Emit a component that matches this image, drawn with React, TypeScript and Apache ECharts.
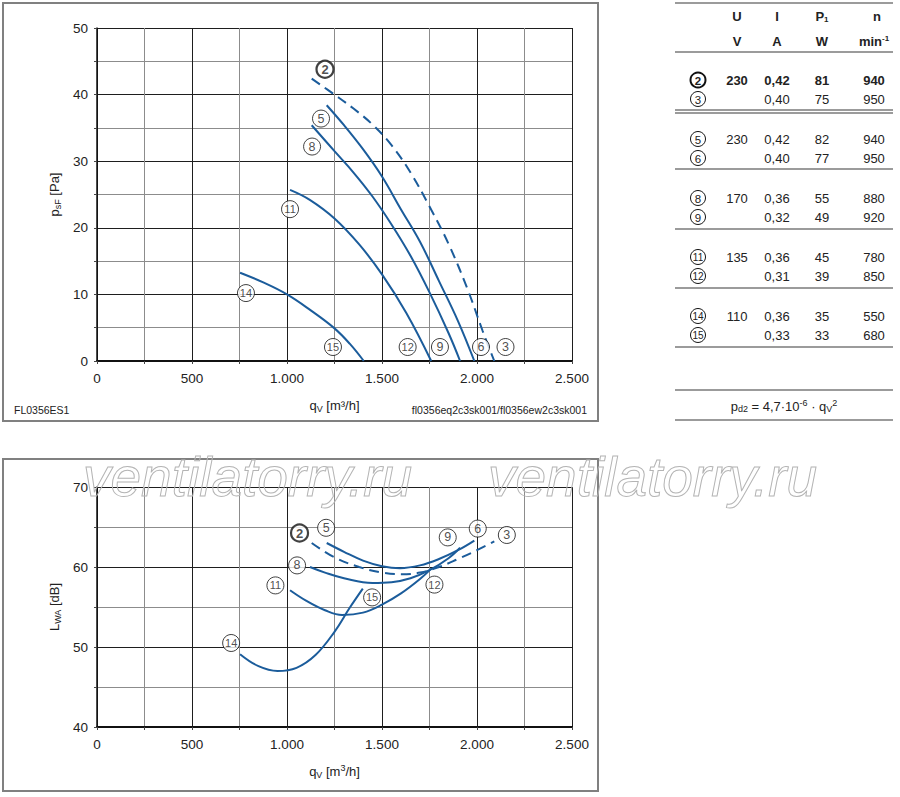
import React, { useEffect, useRef } from 'react';
import * as echarts from 'echarts';

const FONT = '"Liberation Sans", Arial, Helvetica, sans-serif';
const BLUE = '#1b5c9b';
const INK = '#222';

// ---- Top chart: static pressure psF [Pa] vs qV [m³/h]
const p2_3 = [[1130, 42.4], [1250, 40.0], [1350, 37.9], [1450, 35.5], [1550, 32.4], [1650, 28.3], [1750, 23.2], [1850, 17.6], [1950, 10.8], [2030, 4.5], [2091, 0]];
const p5_6 = [[1209, 38.4], [1300, 35.4], [1400, 31.8], [1500, 27.7], [1600, 22.75], [1700, 17.9], [1800, 12.0], [1900, 6.0], [1986, 0]];
const p8_9 = [[1130, 35.4], [1250, 31.5], [1350, 28.3], [1450, 24.7], [1550, 20.5], [1650, 15.8], [1750, 10.3], [1850, 4.2], [1911, 0]];
const p11_12 = [[1016, 25.7], [1120, 24.2], [1250, 21.4], [1380, 17.5], [1500, 13.0], [1628, 7.2], [1759, 0]];
const p14_15 = [[753, 13.25], [875, 11.8], [1000, 10.0], [1125, 7.6], [1250, 4.9], [1330, 2.6], [1404, 0]];

const topLabels = [
  { name: '2', value: [1200, 43.8], bold: true },
  { name: '5', value: [1179, 36.4] },
  { name: '8', value: [1132, 32.2] },
  { name: '11', value: [1016, 22.8] },
  { name: '14', value: [784, 10.2] },
  { name: '15', value: [1242, 2.1] },
  { name: '12', value: [1635, 2.1] },
  { name: '9', value: [1805, 2.1] },
  { name: '6', value: [2021, 2.1] },
  { name: '3', value: [2150, 2.1] },
];

// ---- Bottom chart: sound power LWA [dB] vs qV [m³/h]
const L2_3 = [[1130, 63.0], [1250, 61.2], [1380, 60.0], [1500, 59.3], [1600, 59.1], [1700, 59.3], [1800, 60.0], [1900, 61.0], [2000, 62.1], [2091, 63.2]];
const L5_6 = [[1209, 63.0], [1300, 61.9], [1400, 60.8], [1500, 60.1], [1595, 59.85], [1700, 60.2], [1800, 61.0], [1900, 62.1], [1986, 63.3]];
const L8_9 = [[1121, 60.0], [1200, 59.3], [1300, 58.6], [1450, 58.0], [1550, 58.1], [1650, 58.6], [1750, 59.6], [1850, 61.1], [1911, 62.4]];
const L11_12 = [[1016, 57.1], [1100, 55.8], [1200, 54.6], [1290, 54.0], [1400, 54.3], [1500, 55.3], [1600, 56.7], [1700, 58.5], [1759, 59.8]];
const L14_15 = [[753, 49.1], [850, 47.6], [950, 47.0], [1050, 47.4], [1150, 49.0], [1250, 51.9], [1330, 54.9], [1399, 57.3]];

const bottomLabels = [
  { name: '2', value: [1066, 64.25], bold: true },
  { name: '5', value: [1206, 64.9] },
  { name: '8', value: [1053, 60.2] },
  { name: '11', value: [939, 57.7] },
  { name: '14', value: [706, 50.5] },
  { name: '15', value: [1448, 56.2] },
  { name: '12', value: [1776, 57.8] },
  { name: '9', value: [1846, 63.7] },
  { name: '6', value: [2004, 64.8] },
  { name: '3', value: [2157, 64.0] },
];

// ---- Table
const tableIds = ['2', '3', '5', '6', '8', '9', '11', '12', '14', '15'];
const tableU = ['230', '', '230', '', '170', '', '135', '', '110', ''];
const tableI = ['0,42', '0,40', '0,42', '0,40', '0,36', '0,32', '0,36', '0,31', '0,36', '0,33'];
const tableP = ['81', '75', '82', '77', '55', '49', '45', '39', '35', '33'];
const tableN = ['940', '950', '940', '950', '880', '920', '780', '850', '550', '680'];

const fmtThousands = (v: number) =>
  v >= 1000 ? `${Math.floor(v / 1000)}.${String(v % 1000).padStart(3, '0')}` : String(v);
const fmtX = (v: number) => (v % 500 === 0 ? fmtThousands(v) : '');
const fmtY = (v: number) => (v % 10 === 0 ? String(v) : '');

const nameRich = {
  a: { fontSize: 13, color: INK, fontFamily: FONT },
  s: { fontSize: 9, color: INK, fontFamily: FONT, padding: [7, 0, 0, 0] },
  u: { fontSize: 9, color: INK, fontFamily: FONT, padding: [0, 0, 7, 0] },
};

function xAxisFor(i: number, name: string) {
  return {
    type: 'value',
    gridIndex: i,
    min: 0,
    max: 2500,
    interval: 250,
    axisLine: { show: true, onZero: false, lineStyle: { color: '#111', width: 2 } },
    axisTick: { show: true, length: 3, lineStyle: { color: '#444' } },
    axisLabel: { formatter: fmtX, color: INK, fontSize: 13.5, margin: 10, fontFamily: FONT },
    splitLine: { show: true, lineStyle: { color: ['#1e1e1e', '#8c8c8c'], width: 1 } },
    name,
    nameLocation: 'middle',
    nameGap: 36,
    nameTextStyle: { rich: nameRich },
  };
}

function yAxisFor(i: number, min: number, max: number, name: string) {
  return {
    type: 'value',
    gridIndex: i,
    min,
    max,
    interval: 5,
    axisLine: { show: true, onZero: false, lineStyle: { color: '#111', width: 1.5 } },
    axisTick: { show: true, length: 3, lineStyle: { color: '#444' } },
    axisLabel: { formatter: fmtY, color: INK, fontSize: 13.5, margin: 9, fontFamily: FONT },
    splitLine: { show: true, lineStyle: { color: ['#1e1e1e', '#8c8c8c'], width: 1 } },
    name,
    nameLocation: 'middle',
    nameGap: 30,
    nameTextStyle: { rich: nameRich },
  };
}

function lineSeries(data: number[][], idx: number, dashed = false) {
  return {
    type: 'line',
    xAxisIndex: idx,
    yAxisIndex: idx,
    data,
    smooth: 0.4,
    symbol: 'none',
    lineStyle: { color: BLUE, width: 2, type: dashed ? [10, 6] : 'solid' },
    z: 3,
  };
}

function labelSeries(labels: any[], idx: number) {
  return {
    type: 'scatter',
    xAxisIndex: idx,
    yAxisIndex: idx,
    symbol: 'circle',
    symbolSize: 17,
    z: 5,
    data: labels.map((l) => ({
      name: l.name,
      value: l.value,
      itemStyle: { color: '#fff', borderColor: '#111', borderWidth: l.bold ? 2.2 : 1 },
      label: {
        fontWeight: l.bold ? 'bold' : 'normal',
        fontSize: l.bold ? 13 : l.name.length > 1 ? 11 : 12.5,
      },
    })),
    label: { show: true, position: 'inside', formatter: '{b}', color: INK, fontFamily: FONT },
    emphasis: { disabled: true },
  };
}

function buildGraphics() {
  const g: any[] = [];
  // frames
  g.push({ type: 'rect', shape: { x: 3, y: 3, width: 595, height: 418 }, style: { fill: 'none', stroke: '#808080', lineWidth: 2 }, z: 0 });
  g.push({ type: 'rect', shape: { x: 3, y: 459, width: 595, height: 332 }, style: { fill: 'none', stroke: '#808080', lineWidth: 2 }, z: 0 });
  // footer texts
  g.push({ type: 'text', x: 14, y: 410, style: { text: 'FL0356ES1', font: `10.5px ${FONT}`, fill: INK, verticalAlign: 'middle' } });
  g.push({ type: 'text', x: 587, y: 410, style: { text: 'fl0356eq2c3sk001/fl0356ew2c3sk001', font: `10.5px ${FONT}`, fill: INK, align: 'right', verticalAlign: 'middle' } });

  // table lines
  const L = (y: number) => ({ type: 'line', shape: { x1: 675, y1: y, x2: 893, y2: y }, style: { stroke: '#7a7a7a', lineWidth: 1.5 } });
  [3, 52, 110, 113, 169, 229, 288, 347, 390, 420].forEach((y) => g.push(L(y)));

  const colX = { u: 737, i: 777, p: 822, n: 874 };
  const txt = (x: number, y: number, text: string, bold = false, extra: any = {}) => ({
    type: 'text', x, y,
    style: { text, font: `${bold ? 'bold ' : ''}13px ${FONT}`, fill: INK, align: 'center', verticalAlign: 'middle', ...extra },
  });
  const bRich = {
    a: { fontSize: 13, fontWeight: 'bold', fontFamily: FONT, fill: INK },
    s: { fontSize: 8, fontWeight: 'bold', fontFamily: FONT, fill: INK, padding: [6, 0, 0, 0] },
    u: { fontSize: 8, fontWeight: 'bold', fontFamily: FONT, fill: INK, padding: [0, 0, 6, 0] },
  };
  g.push(txt(colX.u, 16, 'U', true));
  g.push(txt(colX.i, 16, 'I', true));
  g.push({ type: 'text', x: colX.p, y: 16, style: { text: '{a|P}{s|1}', rich: bRich, align: 'center', verticalAlign: 'middle' } });
  g.push(txt(colX.n + 3, 16, 'n', true));
  g.push(txt(colX.u, 41, 'V', true));
  g.push(txt(colX.i, 41, 'A', true));
  g.push(txt(colX.p, 41, 'W', true));
  g.push({ type: 'text', x: colX.n, y: 41, style: { text: '{a|min}{u|-1}', rich: bRich, align: 'center', verticalAlign: 'middle' } });

  tableIds.forEach((id, k) => {
    const grp = Math.floor(k / 2);
    const y = 80 + grp * 59 + (k % 2) * 19;
    const bold = k === 0;
    g.push({ type: 'circle', shape: { cx: 698, cy: y, r: 7.5 }, style: { fill: '#fff', stroke: '#111', lineWidth: bold ? 2 : 1 } });
    g.push(txt(698, y + 0.5, id, bold, { font: `${bold ? 'bold ' : ''}${id.length > 1 ? 10 : 11.5}px ${FONT}` }));
    if (tableU[k]) g.push(txt(colX.u, y, tableU[k], bold));
    g.push(txt(colX.i, y, tableI[k], bold));
    g.push(txt(colX.p, y, tableP[k], bold));
    g.push(txt(colX.n, y, tableN[k], bold));
  });

  const fRich = {
    a: { fontSize: 13, fontFamily: FONT, fill: INK },
    s: { fontSize: 9, fontFamily: FONT, fill: INK, padding: [6, 0, 0, 0] },
    u: { fontSize: 9, fontFamily: FONT, fill: INK, padding: [0, 0, 6, 0] },
  };
  g.push({
    type: 'text', x: 784, y: 406,
    style: { text: '{a|p}{s|d2}{a| = 4,7·10}{u|-6}{a| · q}{s|V}{u|2}', rich: fRich, align: 'center', verticalAlign: 'middle' },
  });

  // watermark
  const wm = (x: number) => ({
    type: 'text', x, y: 449, z: 100, silent: true,
    style: { text: 'ventilatorry.ru', font: `italic 55px ${FONT}`, fill: 'none', stroke: '#b4b4b4', lineWidth: 1 },
  });
  g.push(wm(83));
  g.push(wm(488));
  return g;
}

export default function App() {
  const ref = useRef<HTMLDivElement>(null);
  useEffect(() => {
    if (!ref.current) return;
    const chart = echarts.init(ref.current, undefined, { renderer: 'svg' });
    chart.setOption({
      animation: false,
      backgroundColor: '#fff',
      textStyle: { fontFamily: FONT },
      grid: [
        { left: 97, top: 28, width: 475, height: 333 },
        { left: 97, top: 487, width: 475, height: 240 },
      ],
      xAxis: [xAxisFor(0, '{a|q}{s|V}{a| [m³/h]}'), xAxisFor(1, '{a|q}{s|V}{a| [m}{u|3}{a|/h]}')],
      yAxis: [yAxisFor(0, 0, 50, '{a|p}{s|sF}{a| [Pa]}'), yAxisFor(1, 40, 70, '{a|L}{s|WA}{a| [dB]}')],
      series: [
        lineSeries(p2_3, 0, true),
        lineSeries(p5_6, 0),
        lineSeries(p8_9, 0),
        lineSeries(p11_12, 0),
        lineSeries(p14_15, 0),
        labelSeries(topLabels, 0),
        lineSeries(L2_3, 1, true),
        lineSeries(L5_6, 1),
        lineSeries(L8_9, 1),
        lineSeries(L11_12, 1),
        lineSeries(L14_15, 1),
        labelSeries(bottomLabels, 1),
      ],
      graphic: buildGraphics(),
    });
    return () => chart.dispose();
  }, []);
  return <div ref={ref} style={{ position: 'absolute', left: 0, top: 0, width: 900, height: 797 }} />;
}
